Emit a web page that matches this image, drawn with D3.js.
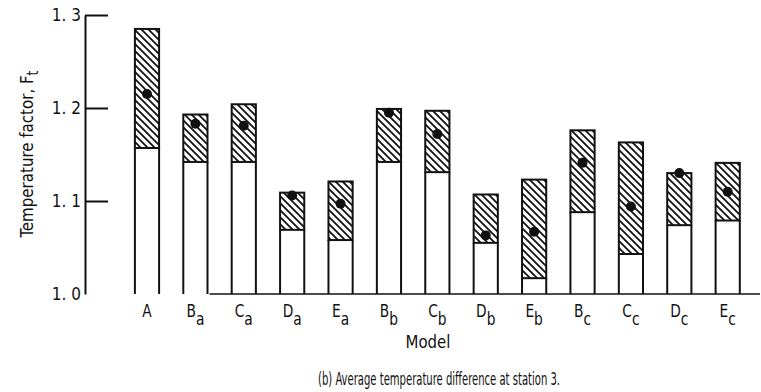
<!DOCTYPE html>
<html>
<head>
<meta charset="utf-8">
<script src="https://cdn.jsdelivr.net/npm/d3@7"></script>
<style>
  html, body { margin: 0; padding: 0; background: #fff; }
  svg text { font-family: "DejaVu Sans Condensed", "Liberation Sans Narrow", "DejaVu Sans", sans-serif; font-stretch: condensed; fill: #111; }
</style>
</head>
<body>
<svg id="chart" width="761" height="392"></svg>
<script>
// ---- data ----
const models   = ["A", "Ba", "Ca", "Da", "Ea", "Bb", "Cb", "Db", "Eb", "Bc", "Cc", "Dc", "Ec"];
const mainLetters = ["A", "B", "C", "D", "E", "B", "C", "D", "E", "B", "C", "D", "E"];
const subLetters  = ["", "a", "a", "a", "a", "b", "b", "b", "b", "c", "c", "c", "c"];
const lowValues  = [1.157, 1.142, 1.142, 1.069, 1.058, 1.142, 1.131, 1.055, 1.017, 1.088, 1.043, 1.074, 1.079];
const highValues = [1.285, 1.193, 1.204, 1.109, 1.121, 1.199, 1.197, 1.107, 1.123, 1.176, 1.163, 1.130, 1.141];
const avgValues  = [1.215, 1.183, 1.181, 1.106, 1.097, 1.195, 1.172, 1.063, 1.067, 1.141, 1.094, 1.130, 1.110];
const yTicks = [1.0, 1.1, 1.2, 1.3];

const svg = d3.select("#chart");

const x = d3.scaleBand().domain(models).range([122.8, 751.9]).paddingInner(0.5).paddingOuter(0.25);
const y = d3.scaleLinear().domain([1.0, 1.3]).range([294, 15]);

// hatch pattern
const defs = svg.append("defs");
const pat = defs.append("pattern").attr("id", "hatch").attr("patternUnits", "userSpaceOnUse")
  .attr("width", 7).attr("height", 7);
pat.append("rect").attr("width", 7).attr("height", 7).attr("fill", "#fff");
pat.append("path").attr("d", "M0,0 L7,7 M-1,6 L1,8 M6,-1 L8,1")
  .attr("stroke", "#111").attr("stroke-width", 1.8);

// y axis
const yAxis = d3.axisLeft(y).tickValues(yTicks).tickSizeInner(-23).tickSizeOuter(0).tickPadding(4)
  .tickFormat(d => d3.format(".1f")(d).replace(".", ". "));
const gy = svg.append("g").attr("transform", "translate(85,0)").call(yAxis);
gy.select(".domain").attr("stroke", "#111").attr("stroke-width", 2);
gy.selectAll(".tick line").attr("stroke", "#111").attr("stroke-width", 2)
  .attr("display", d => d === 1.0 ? "none" : null);
gy.selectAll(".tick text").attr("font-size", 17).attr("fill", "#111")
  .style("font-family", "'DejaVu Sans Condensed', 'Liberation Sans Narrow', sans-serif");

// baseline
svg.append("line").attr("x1", x("Ba") + x.bandwidth() + 2).attr("x2", 760)
  .attr("y1", y(1.0)).attr("y2", y(1.0)).attr("stroke", "#111").attr("stroke-width", 1.5);

// bars
const data = models.map((m, i) => ({ m, lo: lowValues[i], hi: highValues[i], avg: avgValues[i] }));
const g = svg.append("g");
const bw = x.bandwidth();
g.selectAll(".sideL").data(data).enter().append("line")
  .attr("x1", d => x(d.m)).attr("x2", d => x(d.m))
  .attr("y1", d => y(d.lo)).attr("y2", y(1.0))
  .attr("stroke", "#111").attr("stroke-width", 2);
g.selectAll(".sideR").data(data).enter().append("line")
  .attr("x1", d => x(d.m) + bw).attr("x2", d => x(d.m) + bw)
  .attr("y1", d => y(d.lo)).attr("y2", y(1.0))
  .attr("stroke", "#111").attr("stroke-width", 2);
g.selectAll(".hatch").data(data).enter().append("rect")
  .attr("x", d => x(d.m)).attr("width", bw)
  .attr("y", d => y(d.hi)).attr("height", d => y(d.lo) - y(d.hi))
  .attr("fill", "url(#hatch)").attr("stroke", "#111").attr("stroke-width", 2);
g.selectAll(".dot").data(data).enter().append("circle")
  .attr("cx", d => x(d.m) + bw / 2).attr("cy", d => y(d.avg)).attr("r", 5)
  .attr("fill", "#111");

// x labels
const lab = svg.append("g").selectAll("text").data(models).enter().append("text")
  .attr("transform", d => `translate(${x(d) + bw / 2},317) scale(0.85,1)`)
  .attr("font-size", 18).attr("text-anchor", "middle");
lab.append("tspan").text((d, i) => mainLetters[i]);
lab.append("tspan").attr("dy", 8).attr("font-size", 18).text((d, i) => subLetters[i]);

// axis titles
svg.append("text").attr("x", 428).attr("y", 348).attr("text-anchor", "middle").attr("font-size", 18)
  .attr("textLength", 45).attr("lengthAdjust", "spacingAndGlyphs").text("Model");
const yt = svg.append("text").attr("transform", "translate(33,154) rotate(-90) scale(0.93,1)")
  .attr("text-anchor", "middle").attr("font-size", 18);
yt.append("tspan").text("Temperature factor,  F");
yt.append("tspan").attr("dy", 5).attr("font-size", 15).text("t");

svg.append("text").attr("x", 439).attr("y", 385).attr("text-anchor", "middle").attr("font-size", 17)
  .attr("textLength", 242).attr("lengthAdjust", "spacingAndGlyphs")
  .text("(b) Average temperature difference at station 3.");
</script>
</body>
</html>
